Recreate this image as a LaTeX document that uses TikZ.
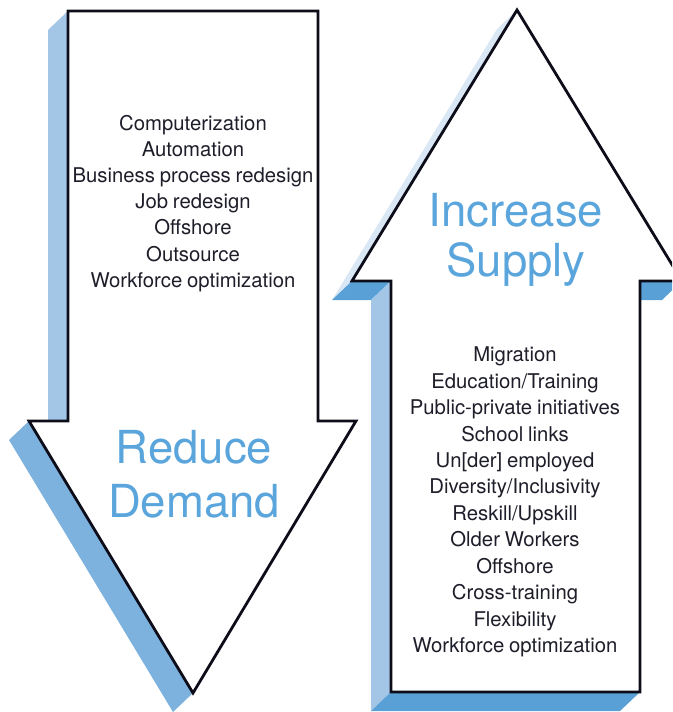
\documentclass[tikz,border=0pt]{standalone}
\usepackage{fontspec}
\setmainfont{TeX Gyre Heros}
\definecolor{edgecol}{RGB}{13,13,26}
\definecolor{listcol}{RGB}{30,30,42}
\definecolor{bigblue}{RGB}{90,165,220}
\definecolor{sidelight}{RGB}{163,197,230}
\definecolor{sidedark}{RGB}{125,177,222}
\definecolor{ledge}{RGB}{88,160,214}
\definecolor{pale}{RGB}{218,232,245}
\newcommand{\tightsp}{\spaceskip=0.24em plus 0.1em\relax}
\begin{document}
\begin{tikzpicture}[x=1pt,y=-1pt,
  outline/.style={draw=edgecol, line width=2.8pt, fill=white, line join=miter},
  item/.style={font=\fontsize{20.3}{24}\selectfont, text=listcol, anchor=base, inner sep=0pt},
  big/.style={font=\fontsize{45.5}{50}\selectfont, text=bigblue, anchor=base, inner sep=0pt}]
\useasboundingbox (0,0) rectangle (672,712);
\clip (0,0) rectangle (672,712);
% ---- down arrow (Reduce Demand) ----
\fill[sidelight] (48,30) -- (68,11) -- (68,421) -- (48,421) -- cycle;
\fill[sidedark] (29,421) -- (193,693) -- (173,712) -- (9,440) -- cycle;
\draw[outline] (68,11) -- (318,11) -- (318,421) -- (356,421) -- (193,693) -- (29,421) -- (68,421) -- cycle;
% ---- up arrow (Increase Supply) ----
\fill[pale] (352,281) -- (517,10) -- (497,29) -- (332,300) -- cycle;
\fill[ledge] (352,281) -- (391,281) -- (371,300) -- (332,300) -- cycle;
\fill[sidelight] (391,281) -- (391,692) -- (371,711) -- (371,300) -- cycle;
\fill[ledge] (391,692) -- (640,692) -- (620,711) -- (371,711) -- cycle;
\fill[ledge] (640,281) -- (682,281) -- (662,300) -- (640,300) -- cycle;
\draw[outline] (517,10) -- (682,281) -- (640,281) -- (640,692) -- (391,692) -- (391,281) -- (352,281) -- cycle;
% ---- texts ----
\foreach [count=\i] \t in {Computerization, Automation, Business process redesign, Job redesign, Offshore, Outsource, Workforce optimization}
  \node[item] (d\i) at (193,{130+26.2*(\i-1)}) {\tightsp\t};
\foreach [count=\i] \t in {Migration, Education/Training, Public-private initiatives, School links, {Un[der] employed}, Diversity/Inclusivity, Reskill/Upskill, Older Workers, Offshore, Cross-training, Flexibility, Workforce optimization}
  \node[item] (s\i) at (515,{361.7+26.45*(\i-1)}) {\tightsp\t};
\node[big] (reduce) at (194,463) {Reduce};
\node[big] (demand) at (194,517) {Demand};
\node[big] (increase) at (516,226) {Increase};
\node[big] (supply) at (516,276) {Supply};
\end{tikzpicture}
\end{document}
